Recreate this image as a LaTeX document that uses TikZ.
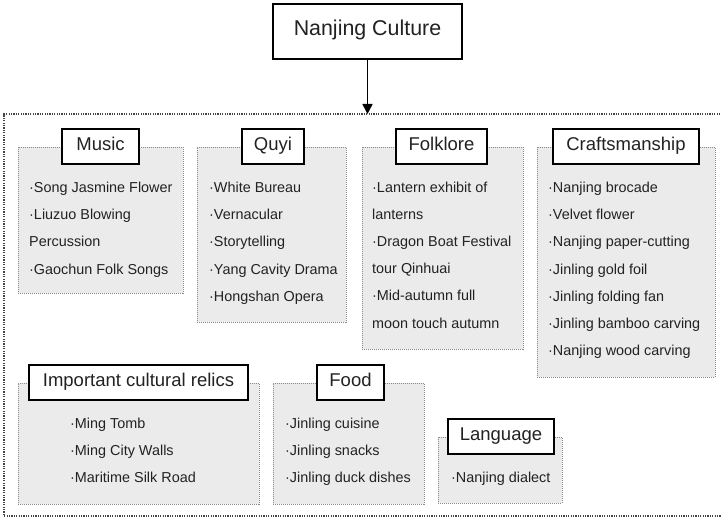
\documentclass[tikz,border=0pt]{standalone}
\usepackage{fontspec}
\setmainfont{Liberation Sans}
\usetikzlibrary{arrows.meta}
\definecolor{txt}{HTML}{222222}
\definecolor{boxfill}{HTML}{EBEBEB}
\definecolor{boxline}{HTML}{8A8A8A}
\definecolor{outline}{HTML}{444444}
\begin{document}
\begin{tikzpicture}[x=1pt,y=-1pt,
  titlebox/.style={draw=black,line width=1.4pt,fill=white,inner sep=0pt,font=\fontsize{18.5}{22}\selectfont,text=txt,text height=0.78em,text depth=0pt},
  mainbox/.style={draw=black,line width=1.4pt,fill=white,inner sep=0pt,font=\fontsize{21.4}{25}\selectfont,text=txt,text height=0.76em,text depth=0pt},
  graybox/.style={draw=boxline,fill=boxfill,line width=0.8pt,dash pattern=on 1pt off 1pt,inner sep=0pt},
  item/.style={anchor=west,inner sep=0pt,font=\fontsize{14.4}{17}\selectfont,text=txt,text height=0.74em,text depth=0pt},
  outerline/.style={draw=outline,line width=1.2pt,dash pattern=on 1.2pt off 1.2pt}]
\useasboundingbox (0,0) rectangle (721,519);
\clip (0,0) rectangle (721,519);
% title
\node[mainbox,minimum width=189pt,minimum height=55pt] (title) at (367.5,31.5) {Nanjing Culture};
\coordinate (outertop) at (367.5,114);
\draw[outerline] (725,114) -- (4,114) -- (4,516) -- (725,516);
\draw[line width=1.4pt,draw=black,-{Triangle[length=10pt,width=10pt]}] (title.south) -- (outertop);

% Music
\node[graybox,minimum width=165pt,minimum height=146pt] (musicbg) at (100.5,220) {};
\node[titlebox,minimum width=77pt,minimum height=35pt] (music) at (100.5,146.5) {Music};
\node[item] (m1) at (29,189) {·Song Jasmine Flower};
\node[item] (m2) at (29,216) {·Liuzuo Blowing};
\node[item] (m3) at (29,243) {Percussion};
\node[item] (m4) at (29,271) {·Gaochun Folk Songs};

% Quyi
\node[graybox,minimum width=149pt,minimum height=175pt] (quyibg) at (271.5,234.5) {};
\node[titlebox,minimum width=62pt,minimum height=35pt] (quyi) at (273,146.5) {Quyi};
\node[item] (q1) at (209,189) {·White Bureau};
\node[item] (q2) at (209,216) {·Vernacular};
\node[item] (q3) at (209,243) {·Storytelling};
\node[item] (q4) at (209,271) {·Yang Cavity Drama};
\node[item] (q5) at (209,298) {·Hongshan Opera};

% Folklore
\node[graybox,minimum width=161pt,minimum height=202pt] (folkbg) at (442.5,248) {};
\node[titlebox,minimum width=91pt,minimum height=35pt] (folk) at (441.5,146.5) {Folklore};
\node[item] (f1) at (372,189) {·Lantern exhibit of};
\node[item] (f2) at (372,216) {lanterns};
\node[item] (f3) at (372,243) {·Dragon Boat Festival};
\node[item] (f4) at (372,270) {tour Qinhuai};
\node[item] (f5) at (372,297) {·Mid-autumn full};
\node[item] (f6) at (372,325) {moon touch autumn};

% Craftsmanship
\node[graybox,minimum width=178pt,minimum height=230pt] (craftbg) at (626,262) {};
\node[titlebox,minimum width=146pt,minimum height=35pt] (craft) at (626,146.5) {Craftsmanship};
\node[item] (c1) at (548,189) {·Nanjing brocade};
\node[item] (c2) at (548,216) {·Velvet flower};
\node[item] (c3) at (548,243) {·Nanjing paper-cutting};
\node[item] (c4) at (548,270.5) {·Jinling gold foil};
\node[item] (c5) at (548,297.5) {·Jinling folding fan};
\node[item] (c6) at (548,325) {·Jinling bamboo carving};
\node[item] (c7) at (548,352) {·Nanjing wood carving};

% Important cultural relics
\node[graybox,minimum width=241pt,minimum height=121pt] (relicbg) at (138.5,443.5) {};
\node[titlebox,minimum width=219pt,minimum height=35pt] (relic) at (138.5,382.5) {Important cultural relics};
\node[item] (r1) at (70,425) {·Ming Tomb};
\node[item] (r2) at (70,452) {·Ming City Walls};
\node[item] (r3) at (70,479) {·Maritime Silk Road};

% Food
\node[graybox,minimum width=151pt,minimum height=121pt] (foodbg) at (348.5,443.5) {};
\node[titlebox,minimum width=67pt,minimum height=35pt] (food) at (350.5,382.5) {Food};
\node[item] (d1) at (285,425) {·Jinling cuisine};
\node[item] (d2) at (285,452) {·Jinling snacks};
\node[item] (d3) at (285,479) {·Jinling duck dishes};

% Language
\node[graybox,minimum width=124pt,minimum height=66pt] (langbg) at (500,470) {};
\node[titlebox,minimum width=106pt,minimum height=35pt] (lang) at (501,436.5) {Language};
\node[item] (l1) at (451,479) {·Nanjing dialect};
\end{tikzpicture}
\end{document}
